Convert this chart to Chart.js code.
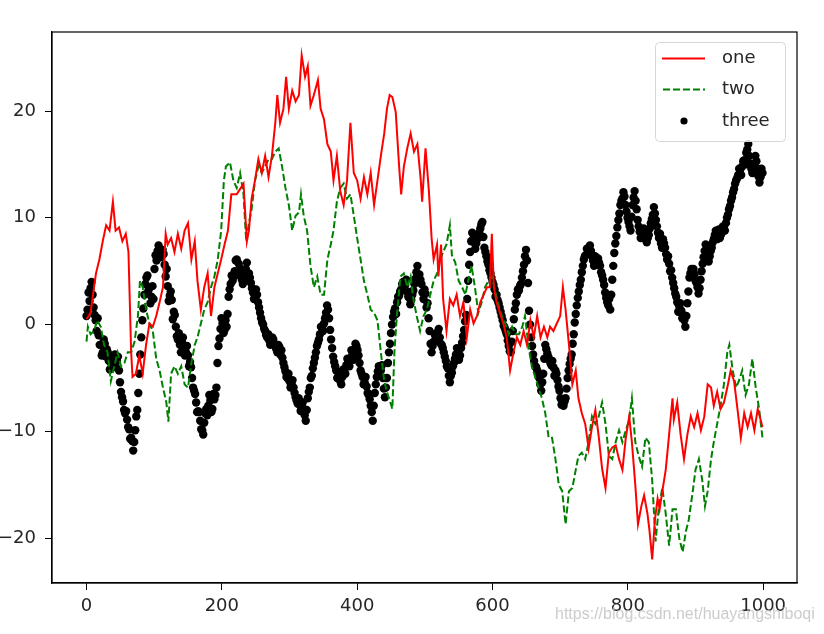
<!DOCTYPE html>
<html>
<head>
<meta charset="utf-8">
<script src="https://cdn.jsdelivr.net/npm/chart.js@4.4.1/dist/chart.umd.min.js"></script>
<style>
  body { margin: 0; background: #fff; }
  #wrap { width: 824px; height: 634px; }
</style>
</head>
<body>
<div id="wrap"><canvas id="chart" width="824" height="634"></canvas></div>
<script>
// values
const oneX = [0, 6, 10, 14, 19, 24, 29, 34, 39, 43, 48, 53, 58, 62, 66, 68, 73, 78, 83, 88, 93, 98, 103, 108, 113, 117, 120, 125, 130, 135, 140, 145, 150, 155, 160, 164, 169, 174, 179, 184, 189, 194, 199, 204, 209, 214, 222, 232, 237, 240, 244, 249, 254, 259, 264, 269, 274, 279, 282, 286, 291, 295, 299, 304, 309, 314, 318, 323, 327, 331, 336, 342, 346, 351, 356, 361, 365, 370, 375, 380, 385, 390, 395, 400, 405, 410, 415, 420, 425, 430, 435, 440, 444, 448, 452, 457, 462, 465, 469, 474, 479, 484, 489, 494, 496, 501, 506, 510, 513, 518, 520, 524, 527, 532, 537, 542, 547, 552, 557, 562, 567, 572, 577, 582, 587, 592, 596, 599, 602, 606, 611, 616, 621, 626, 631, 636, 641, 646, 651, 656, 661, 666, 671, 676, 681, 685, 690, 695, 700, 704, 708, 713, 718, 723, 727, 732, 737, 742, 747, 752, 757, 762, 767, 772, 777, 782, 787, 792, 797, 802, 806, 811, 815, 820, 824, 829, 832, 836, 840, 844, 847, 851, 856, 861, 866, 868, 873, 878, 883, 888, 893, 898, 903, 908, 913, 918, 923, 927, 932, 937, 942, 947, 952, 957, 962, 967, 972, 977, 982, 987, 992, 999];
const oneY = [0.5, 1.1, 3.0, 4.8, 6.1, 7.8, 9.3, 8.8, 11.5, 8.8, 9.1, 7.8, 8.5, 6.8, -2.6, -4.9, -4.6, -2.9, -4.6, -1.9, 0.1, -0.2, 0.8, 2.1, 3.5, 8.5, 7.5, 8.1, 6.8, 8.5, 7.1, 8.8, 9.5, 6.1, 7.8, 4.1, 1.4, 3.5, 4.8, 0.8, 3.5, 4.8, 6.1, 7.5, 8.8, 12.2, 12.2, 13.2, 7.8, 8.8, 11.8, 13.5, 15.5, 14.2, 15.8, 13.8, 15.8, 18.9, 21.5, 18.9, 20.2, 23.2, 20.2, 21.9, 20.9, 21.5, 25.2, 23.2, 24.2, 20.5, 21.5, 22.9, 20.2, 19.2, 16.9, 16.2, 13.5, 15.8, 12.5, 11.2, 13.5, 18.9, 14.2, 13.5, 11.8, 13.8, 12.2, 14.2, 11.2, 13.5, 15.8, 17.9, 20.2, 21.5, 21.3, 19.9, 14.8, 12.2, 14.8, 16.5, 17.9, 16.2, 16.9, 13.5, 11.5, 16.5, 12.5, 8.1, 6.1, 7.5, 4.5, 7.5, 2.4, -0.6, 2.4, 1.8, 2.8, 0.8, 2.1, -1.2, 1.4, 0.1, 0.8, 2.1, 2.8, 3.5, 3.5, 8.5, 3.5, 2.1, 1.1, 0.1, -1.2, -4.3, -2.6, -1.2, -1.9, -0.6, -1.9, 0.4, -1.2, 0.8, -1.2, -0.2, -1.2, -0.2, -0.6, 0.1, 0.8, 3.5, 1.4, -1.9, -5.6, -4.3, -6.9, -8.3, -9.3, -11.6, -9.6, -8.0, -10.5, -13.5, -15.3, -12.0, -11.5, -11.3, -12.6, -13.6, -10.6, -8.6, -11.0, -15.0, -18.7, -17.0, -16.0, -17.7, -19.3, -22.0, -18.3, -16.3, -17.3, -15.6, -13.6, -10.3, -6.9, -8.9, -7.3, -10.3, -12.6, -10.3, -8.6, -9.6, -8.3, -9.9, -8.6, -5.6, -5.9, -7.6, -6.3, -7.9, -7.3, -5.9, -4.3, -5.3, -7.9, -10.6, -8.3, -9.6, -8.3, -9.9, -7.9, -9.6];

const twoX = [0, 2, 6, 11, 16, 21, 26, 31, 36, 41, 46, 51, 56, 61, 66, 71, 76, 79, 83, 88, 93, 98, 103, 108, 113, 118, 121, 125, 130, 135, 140, 145, 150, 155, 160, 164, 169, 174, 179, 184, 189, 194, 199, 203, 206, 212, 217, 222, 227, 232, 236, 240, 244, 249, 254, 259, 264, 269, 274, 279, 284, 289, 294, 299, 304, 309, 314, 317, 321, 326, 331, 336, 341, 346, 351, 356, 361, 365, 370, 375, 380, 385, 390, 395, 400, 405, 410, 415, 420, 425, 430, 435, 440, 444, 452, 455, 459, 464, 469, 474, 479, 483, 488, 493, 498, 503, 508, 513, 518, 523, 527, 532, 537, 540, 545, 550, 555, 560, 564, 569, 574, 579, 584, 589, 594, 599, 604, 609, 614, 619, 624, 629, 634, 639, 644, 648, 653, 658, 663, 668, 673, 678, 683, 688, 693, 698, 703, 708, 713, 718, 723, 727, 732, 737, 742, 747, 752, 757, 762, 767, 772, 777, 782, 787, 792, 797, 802, 806, 811, 816, 821, 826, 831, 836, 841, 846, 851, 856, 861, 866, 871, 876, 881, 886, 890, 896, 900, 905, 910, 914, 918, 923, 927, 932, 937, 942, 947, 950, 955, 960, 964, 969, 974, 979, 984, 989, 994, 999];
const twoY = [-1.6, -0.2, -0.9, -0.6, 0.4, -0.2, -1.9, -2.6, -5.3, -3.9, -2.6, -3.9, -3.6, -2.6, -2.6, -1.6, 0.8, 4.1, 3.5, 1.4, 0.1, -0.6, -3.2, -4.3, -5.9, -7.3, -9.1, -4.6, -3.9, -4.6, -3.9, -5.6, -5.9, -3.6, -1.9, -1.2, 0.1, 1.4, 2.1, 3.5, 4.5, 6.1, 8.8, 13.5, 14.8, 15.2, 13.5, 12.8, 14.2, 12.2, 7.8, 9.5, 10.8, 13.5, 14.8, 14.2, 14.8, 15.5, 15.5, 16.2, 16.5, 14.8, 12.8, 11.2, 8.8, 10.2, 10.5, 12.2, 10.2, 8.8, 5.5, 3.5, 4.5, 2.8, 2.8, 6.1, 7.5, 8.8, 11.5, 12.8, 13.2, 11.8, 12.2, 10.2, 8.1, 6.1, 4.1, 2.8, 1.4, 1.1, 0.4, -2.6, -5.3, -6.3, -7.9, -2.6, 1.1, 4.5, 4.8, 3.5, 4.5, 2.4, 0.8, -0.6, 0.8, 1.4, 2.8, 4.1, 4.8, 6.1, 6.8, 7.5, 9.3, 6.5, 5.8, 4.1, 3.5, 2.8, 4.1, 5.5, 3.5, 1.1, 2.1, 3.5, 4.1, 4.5, 3.1, 1.8, 0.8, 0.1, -0.9, -0.2, -0.9, -0.9, -0.2, 0.8, -1.9, -3.9, -4.9, -5.9, -6.9, -8.3, -10.6, -10.6, -12.6, -15.0, -15.6, -18.7, -15.6, -15.3, -13.6, -12.3, -12.0, -12.6, -11.0, -8.6, -9.3, -8.6, -7.3, -9.3, -12.3, -12.6, -11.0, -9.9, -11.0, -9.9, -8.9, -6.9, -11.0, -12.3, -13.3, -10.6, -11.0, -14.6, -20.3, -17.0, -15.3, -17.7, -20.7, -17.3, -17.3, -20.0, -21.3, -19.3, -18.3, -15.6, -13.6, -12.6, -14.6, -17.0, -15.6, -12.6, -11.0, -9.3, -7.6, -5.6, -2.6, -1.9, -4.3, -5.9, -5.3, -4.3, -6.6, -5.6, -3.2, -5.9, -7.9, -10.6];

// "three" is read every 3 steps along x (threeY at 0, 3, 6 ...; threeYMid at 1.5, 4.5 ...)
const threeStep = 3;
const threeY = [
    0.8, 3.0, 3.4, 2.8, 0.9, -0.6, -1.0, -1.9, -2.6, -1.8,
    -2.3, -3.4, -3.6, -3.9, -2.8, -3.4, -4.3, -6.3, -7.2, -8.3,
    -8.9, -9.8, -10.6, -11.8, -9.9, -8.0, -4.6, -1.2, 1.5, 3.8,
    4.6, 3.5, 2.6, 2.4, 6.5, 6.9, 7.1, 6.4, 6.6, 4.5,
    3.6, 2.7, 2.3, 1.2, -0.2, -1.4, -1.9, -1.6, -2.3, -2.6,
    -2.9, -3.5, -5.0, -6.2, -7.3, -8.1, -9.0, -9.9, -9.2, -7.9,
    -7.6, -7.1, -7.9, -7.0, -5.9, -2.0, -0.4, 0.1, -0.5, -0.2,
    2.6, 3.8, 4.1, 5.0, 6.1, 5.7, 5.2, 3.8, 4.4, 5.8,
    4.8, 3.9, 3.0, 2.6, 2.8, 1.6, 0.6, 0.0, -0.6, -1.2,
    -1.5, -1.7, -1.4, -2.0, -2.6, -2.1, -2.4, -3.6, -4.4, -5.0,
    -5.3, -5.5, -5.9, -6.8, -7.4, -7.5, -7.8, -7.9, -9.0, -6.9,
    -5.9, -4.8, -3.6, -2.6, -1.7, -0.9, -0.3, 0.1, 1.1, 1.4,
    -0.5, -2.2, -3.5, -4.3, -4.9, -5.3, -4.9, -4.4, -3.8, -3.4,
    -3.2, -2.8, -2.5, -2.0, -2.9, -4.3, -4.9, -5.4, -5.8, -6.6,
    -7.6, -9.0, -6.4, -4.9, -3.9, -4.3, -5.0, -6.8, -5.0, -2.6,
    -0.8, 0.7, 1.5, 2.1, 2.7, 3.3, 4.0, 3.7, 3.1, 2.5,
    2.3, 3.2, 4.3, 5.5, 4.7, 3.8, 2.4, 2.9, 2.0, -0.6,
    -2.6, -1.6, -1.1, -0.7, -1.2, -1.9, -2.6, -3.4, -4.1, -5.4,
    -4.5, -3.6, -2.8, -2.7, -2.9, -1.7, -0.5, 0.9, 4.1, 6.8,
    8.6, 7.7, 7.6, 8.1, 9.0, 9.6, 7.2, 6.4, 5.6, 4.8,
    4.0, 3.3, 2.8, 2.0, 1.2, 0.4, -0.3, -0.9, -2.0, -2.6,
    -0.6, 1.4, 2.8, 3.2, 3.8, 5.0, 6.4, 6.0, 1.3, -1.2,
    -2.8, -3.9, -4.3, -5.0, -6.2, -4.6, -1.9, -2.7, -3.3, -3.8,
    -4.0, -4.3, -5.2, -6.2, -7.5, -7.6, -6.9, -5.0, -3.7, -2.8,
    -0.9, 1.0, 2.5, 3.7, 4.9, 6.1, 6.5, 6.9, 7.4, 6.5,
    5.5, 5.9, 6.2, 5.5, 4.6, 3.7, 2.5, 1.8, 1.4, 4.2,
    6.7, 8.3, 9.8, 11.2, 11.8, 12.0, 10.6, 9.6, 8.8, 11.2,
    12.5, 10.8, 9.2, 8.1, 8.6, 8.5, 7.7, 8.4, 9.5, 10.3,
    10.4, 9.2, 8.1, 7.6, 8.0, 7.2, 6.1, 5.7, 5.1, 3.9,
    2.9, 2.1, 1.7, 1.3, 0.9, -0.2, 2.0, 4.4, 5.2, 5.2,
    4.1, 3.5, 3.4, 5.0, 6.3, 7.5, 6.5, 6.4, 7.2, 8.0,
    8.8, 8.4, 8.1, 8.6, 9.1, 9.5, 10.3, 11.1, 11.9, 12.7,
    13.5, 14.0, 14.5, 14.8, 15.4, 16.1, 16.9, 15.1, 14.2, 15.0,
    15.3, 13.9, 13.8, 14.2
];
const threeYMid = [
    1.4, 2.2, 4.0, 1.6, 0.4, 0.6, -1.9, -2.9, -1.4, -3.0,
    -2.6, -4.2, -3.1, -3.5, -4.0, -3.0, -5.4, -6.8, -8.0, -8.1,
    -9.6, -10.7, -10.9, -11.0, -8.6, -6.4, -2.8, 0.4, 2.8, 4.4,
    3.2, 2.0, 3.6, 5.2, 6.0, 7.4, 6.3, 7.0, 5.6, 5.2,
    2.2, 3.1, 0.5, 0.9, -1.1, -0.8, -2.6, -1.2, -2.9, -2.0,
    -3.9, -4.0, -5.9, -6.5, -8.2, -8.2, -9.8, -10.3, -8.3, -8.5,
    -6.6, -8.2, -6.5, -6.6, -3.6, -1.3, 0.6, -0.8, 0.4, 1.0,
    3.3, 4.6, 4.5, 6.0, 5.0, 4.6, 4.2, 5.1, 5.2, 4.2,
    4.4, 3.4, 2.4, 3.3, 2.1, 1.1, 0.2, -0.4, -1.0, -0.9,
    -1.9, -1.2, -1.9, -2.3, -1.9, -2.8, -3.1, -4.0, -4.9, -4.6,
    -5.9, -5.2, -6.4, -7.1, -6.9, -8.1, -7.3, -8.5, -8.0, -6.3,
    -5.0, -4.1, -3.1, -2.0, -1.4, -0.2, -0.6, 0.6, 1.8, 0.6,
    -1.4, -3.0, -3.9, -5.0, -4.6, -5.6, -4.2, -4.6, -3.2, -3.9,
    -2.4, -3.3, -1.8, -2.4, -3.6, -4.6, -5.6, -4.9, -6.4, -7.0,
    -8.2, -7.6, -5.6, -4.4, -4.6, -3.8, -6.0, -5.9, -3.6, -1.8,
    0.0, 1.2, 1.0, 2.6, 3.1, 3.8, 3.2, 4.2, 2.6, 1.9,
    2.8, 3.8, 4.9, 4.6, 4.2, 3.0, 3.3, 1.6, 0.6, -1.8,
    -2.0, -0.9, -1.5, -0.4, -1.8, -2.2, -3.0, -3.9, -4.8, -4.8,
    -3.9, -3.2, -2.2, -3.3, -2.2, -1.1, 0.3, 2.4, 5.6, 7.8,
    8.0, 7.1, 8.4, 8.6, 9.4, 8.2, 6.8, 5.9, 5.1, 4.4,
    3.7, 2.6, 2.3, 1.6, 0.8, -0.1, -0.6, -1.5, -2.5, -1.6,
    0.5, 2.0, 3.3, 3.6, 4.4, 5.6, 7.0, 3.9, 0.0, -2.0,
    -3.4, -4.0, -4.8, -5.6, -5.4, -3.2, -2.3, -3.0, -3.6, -3.4,
    -4.8, -4.6, -5.8, -6.9, -7.0, -7.2, -6.0, -4.3, -3.2, -1.8,
    0.2, 1.8, 3.1, 4.2, 5.5, 6.4, 7.1, 7.2, 6.9, 6.0,
    6.4, 5.6, 5.8, 4.9, 4.2, 3.0, 2.1, 2.4, 2.8, 5.5,
    7.6, 9.1, 10.4, 11.6, 12.4, 11.2, 10.0, 9.2, 10.1, 11.9,
    11.6, 9.8, 8.7, 8.9, 9.0, 8.0, 8.1, 9.0, 9.9, 11.0,
    9.8, 8.6, 8.5, 7.2, 7.6, 6.6, 6.4, 5.0, 4.4, 3.4,
    2.6, 1.2, 2.0, 0.6, 0.4, 0.8, 3.1, 4.8, 4.6, 4.7,
    3.9, 2.9, 4.2, 5.7, 6.9, 6.9, 5.9, 6.9, 7.7, 8.4,
    8.0, 8.9, 8.4, 9.2, 8.8, 10.0, 10.8, 11.6, 12.4, 13.2,
    13.7, 14.6, 14.0, 15.3, 15.0, 16.4, 15.8, 14.6, 14.8, 15.8,
    14.6, 13.3, 14.6
];

const xTicks = [0, 200, 400, 600, 800, 1000];
const yTicks = [-20, -10, 0, 10, 20];
const labels = ['one', 'two', 'three'];

function pairs(xs, ys) {
    return xs.map((x, i) => ({ x: x, y: ys[i] }));
}

const threeX = threeY.map((_, i) => Math.min(i * threeStep, 999));
const threeXMid = threeYMid.map((_, i) => i * threeStep + threeStep / 2);

const fontFamily = '"DejaVu Sans", sans-serif';
const textColor = '#262626';

// matplotlib-style frame, legend box and the blog watermark
const framePlugin = {
    id: 'frame',
    afterDraw(chart) {
        const ctx = chart.ctx;
        const a = chart.chartArea;
        ctx.save();
        ctx.strokeStyle = '#000';
        ctx.lineWidth = 1.2;
        ctx.strokeRect(a.left, a.top, a.right - a.left, a.bottom - a.top);

        // legend, upper right
        const bx = a.right - 142, by = a.top + 10, bw = 130, bh = 99;
        ctx.beginPath();
        ctx.roundRect(bx + 0.5, by + 0.5, bw, bh, 4);
        ctx.fillStyle = 'rgba(255,255,255,0.8)';
        ctx.fill();
        ctx.strokeStyle = '#d6d6d6';
        ctx.lineWidth = 1;
        ctx.stroke();

        const rows = [by + 16.5, by + 47.5, by + 79];
        ctx.lineWidth = 2;
        ctx.strokeStyle = 'red';
        ctx.beginPath(); ctx.moveTo(bx + 7, rows[0]); ctx.lineTo(bx + 50, rows[0]); ctx.stroke();
        ctx.strokeStyle = 'green';
        ctx.setLineDash([7, 3]);
        ctx.beginPath(); ctx.moveTo(bx + 8, rows[1]); ctx.lineTo(bx + 50, rows[1]); ctx.stroke();
        ctx.setLineDash([]);
        ctx.fillStyle = '#000';
        ctx.beginPath(); ctx.arc(bx + 29, rows[2], 3.6, 0, Math.PI * 2); ctx.fill();

        ctx.font = '18px ' + fontFamily;
        ctx.fillStyle = textColor;
        ctx.textBaseline = 'middle';
        labels.forEach((t, i) => ctx.fillText(t, bx + 67, rows[i]));

        ctx.font = '16px "Liberation Sans", sans-serif';
        ctx.fillStyle = 'rgba(195,195,195,0.85)';
        ctx.textBaseline = 'alphabetic';
        ctx.fillText('https://blog.csdn.net/huayangshiboqi', 555, 619);
        ctx.restore();
    }
};

new Chart(document.getElementById('chart'), {
    type: 'line',
    data: {
        datasets: [
            {
                label: labels[0],
                data: pairs(oneX, oneY),
                borderColor: 'red',
                borderWidth: 2,
                pointRadius: 0,
                tension: 0
            },
            {
                label: labels[1],
                data: pairs(twoX, twoY),
                borderColor: 'green',
                borderWidth: 2,
                borderDash: [7, 3],
                pointRadius: 0,
                tension: 0
            },
            {
                label: labels[2],
                data: pairs(threeX, threeY).concat(pairs(threeXMid, threeYMid)),
                showLine: false,
                pointRadius: 4.2,
                pointBackgroundColor: '#000',
                pointBorderWidth: 0,
                borderColor: '#000'
            }
        ]
    },
    options: {
        responsive: false,
        animation: false,
        devicePixelRatio: 1,
        layout: { padding: { top: 32, right: 27, left: 0, bottom: 0 } },
        plugins: {
            legend: { display: false },
            tooltip: { enabled: false }
        },
        scales: {
            x: {
                type: 'linear',
                min: -51,
                max: 1050,
                afterFit: s => { s.height = 51; },
                afterBuildTicks: axis => { axis.ticks = xTicks.map(v => ({ value: v })); },
                grid: { drawOnChartArea: false, drawTicks: true, tickLength: 7, color: '#000', lineWidth: 1 },
                border: { display: true, color: '#000', width: 1.2 },
                ticks: {
                    color: textColor,
                    font: { family: fontFamily, size: 18 },
                    padding: 6,
                    maxRotation: 0,
                    callback: v => String(v)
                }
            },
            y: {
                min: -24.2,
                max: 27.4,
                afterFit: s => { s.width = 52; },
                afterBuildTicks: axis => { axis.ticks = yTicks.map(v => ({ value: v })); },
                grid: { drawOnChartArea: false, drawTicks: true, tickLength: 7, color: '#000', lineWidth: 1 },
                border: { display: true, color: '#000', width: 1.2 },
                ticks: {
                    color: textColor,
                    font: { family: fontFamily, size: 18 },
                    padding: 9,
                    callback: v => v < 0 ? '\u2212' + Math.abs(v) : String(v)
                }
            }
        }
    },
    plugins: [framePlugin]
});
</script>
</body>
</html>
